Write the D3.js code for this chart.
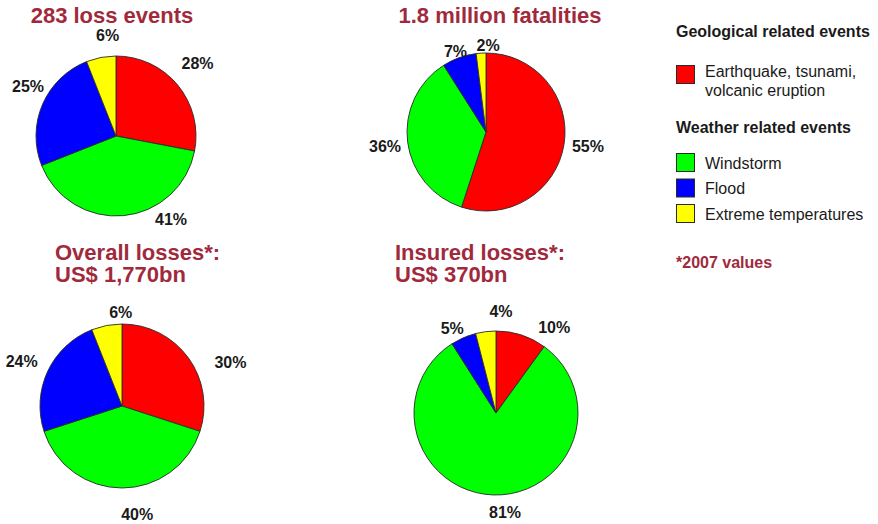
<!DOCTYPE html>
<html>
<head>
<meta charset="utf-8">
<script src="https://cdn.jsdelivr.net/npm/d3@7"></script>
<style>
  html, body { margin: 0; padding: 0; background: #fff; }
  svg { display: block; font-family: "Liberation Sans", Arial, sans-serif; }
</style>
</head>
<body>
<svg id="chart" width="878" height="524"></svg>
<script>
// Event categories (same order in every pie, clockwise from 12 o'clock)
const categories = [
  "Earthquake, tsunami, volcanic eruption",
  "Windstorm",
  "Flood",
  "Extreme temperatures"
];
const categoryColors = ["#ff0000", "#00ff00", "#0000ff", "#ffff00"];

// Shares in percent, one array per pie
const lossEvents = [28, 41, 25, 6];
const fatalities = [55, 36, 7, 2];
const overallLosses = [30, 40, 24, 6];
const insuredLosses = [10, 81, 5, 4];

// Pie titles
const titleLossEvents = ["283 loss events"];
const titleFatalities = ["1.8 million fatalities"];
const titleOverall = ["Overall losses*:", "US$ 1,770bn"];
const titleInsured = ["Insured losses*:", "US$ 370bn"];

// Legend text
const legendGroups = ["Geological related events", "Weather related events"];
const footnote = "*2007 values";

// Layout of each pie: centre, radius, title placement and label nudges
const pies = [
  { values: lossEvents, title: titleLossEvents, cx: 116, cy: 136, r: 80,
    tx: 112, ty: 23, anchor: "middle",
    labelDist: [109, 100, 101, 101], labelShift: [-2, -28, 6, 6] },
  { values: fatalities, title: titleFatalities, cx: 486, cy: 132, r: 79,
    tx: 500, ty: 23, anchor: "middle",
    labelDist: [103, 102, 86, 87], labelShift: [-1, -1, -1, 5] },
  { values: overallLosses, title: titleOverall, cx: 122, cy: 406, r: 82,
    tx: 55, ty: 260, anchor: "start",
    labelDist: [117, 109, 110, 94], labelShift: [14, -8, -1, 10] },
  { values: insuredLosses, title: titleInsured, cx: 496, cy: 413, r: 82,
    tx: 395, ty: 260, anchor: "start",
    labelDist: [104, 100, 95, 102], labelShift: [16, -7, -4, 10] }
];

const titleColor = "#a02a3c";
const textColor = "#1a1a1a";

const svg = d3.select("#chart");
const color = d3.scaleOrdinal().domain(categories).range(categoryColors);
const pie = d3.pie().sort(null).value(d => d.value);

pies.forEach(p => {
  const g = svg.append("g");
  const data = pie(p.values.map((v, i) => ({ key: categories[i], value: v })));
  const arc = d3.arc().innerRadius(0).outerRadius(p.r);

  g.selectAll("path.slice")
    .data(data)
    .join("path")
    .attr("class", "slice")
    .attr("transform", `translate(${p.cx},${p.cy})`)
    .attr("d", arc)
    .attr("fill", d => color(d.data.key))
    .attr("stroke", "#2a2a2a")
    .attr("stroke-width", 0.9)
    .attr("stroke-linejoin", "round");

  g.selectAll("text.pct")
    .data(data)
    .join("text")
    .attr("class", "pct")
    .attr("x", (d, i) => {
      const a = (d.startAngle + d.endAngle) / 2 + p.labelShift[i] * Math.PI / 180;
      return p.cx + Math.sin(a) * p.labelDist[i];
    })
    .attr("y", (d, i) => {
      const a = (d.startAngle + d.endAngle) / 2 + p.labelShift[i] * Math.PI / 180;
      return p.cy - Math.cos(a) * p.labelDist[i];
    })
    .attr("dy", "0.36em")
    .attr("text-anchor", "middle")
    .attr("font-size", 16)
    .attr("font-weight", "bold")
    .attr("fill", textColor)
    .text(d => d.data.value + "%");

  g.selectAll("text.title")
    .data(p.title)
    .join("text")
    .attr("class", "title")
    .attr("x", p.tx)
    .attr("y", (d, i) => p.ty + i * 22)
    .attr("text-anchor", p.anchor)
    .attr("font-size", 22)
    .attr("font-weight", "bold")
    .attr("fill", titleColor)
    .text(d => d);
});

// Legend
const legend = svg.append("g").attr("transform", "translate(676,0)");
const sw = 18;

legend.append("text")
  .attr("x", 0).attr("y", 37)
  .attr("font-size", 16).attr("font-weight", "bold").attr("fill", textColor)
  .text(legendGroups[0]);

legend.append("rect")
  .attr("x", 0.5).attr("y", 65.5).attr("width", sw).attr("height", sw)
  .attr("fill", color(categories[0])).attr("stroke", "#2a2a2a");
const geoLines = ["Earthquake, tsunami,", "volcanic eruption"];
legend.selectAll("text.geo")
  .data(geoLines)
  .join("text")
  .attr("class", "geo")
  .attr("x", 29).attr("y", (d, i) => 71 + i * 19)
  .attr("dy", "0.36em")
  .attr("font-size", 16).attr("fill", textColor)
  .text(d => d);

legend.append("text")
  .attr("x", 0).attr("y", 133)
  .attr("font-size", 16).attr("font-weight", "bold").attr("fill", textColor)
  .text(legendGroups[1]);

const weather = categories.slice(1);
const rows = legend.selectAll("g.row")
  .data(weather)
  .join("g")
  .attr("class", "row")
  .attr("transform", (d, i) => `translate(0,${153 + i * 25.5})`);
rows.append("rect")
  .attr("x", 0.5).attr("y", 0.5).attr("width", sw).attr("height", sw)
  .attr("fill", d => color(d)).attr("stroke", "#2a2a2a");
rows.append("text")
  .attr("x", 29).attr("y", 10)
  .attr("dy", "0.36em")
  .attr("font-size", 16).attr("fill", textColor)
  .text(d => d);

legend.append("text")
  .attr("x", 0).attr("y", 262)
  .attr("dy", "0.36em")
  .attr("font-size", 16).attr("font-weight", "bold").attr("fill", titleColor)
  .text(footnote);
</script>
</body>
</html>
